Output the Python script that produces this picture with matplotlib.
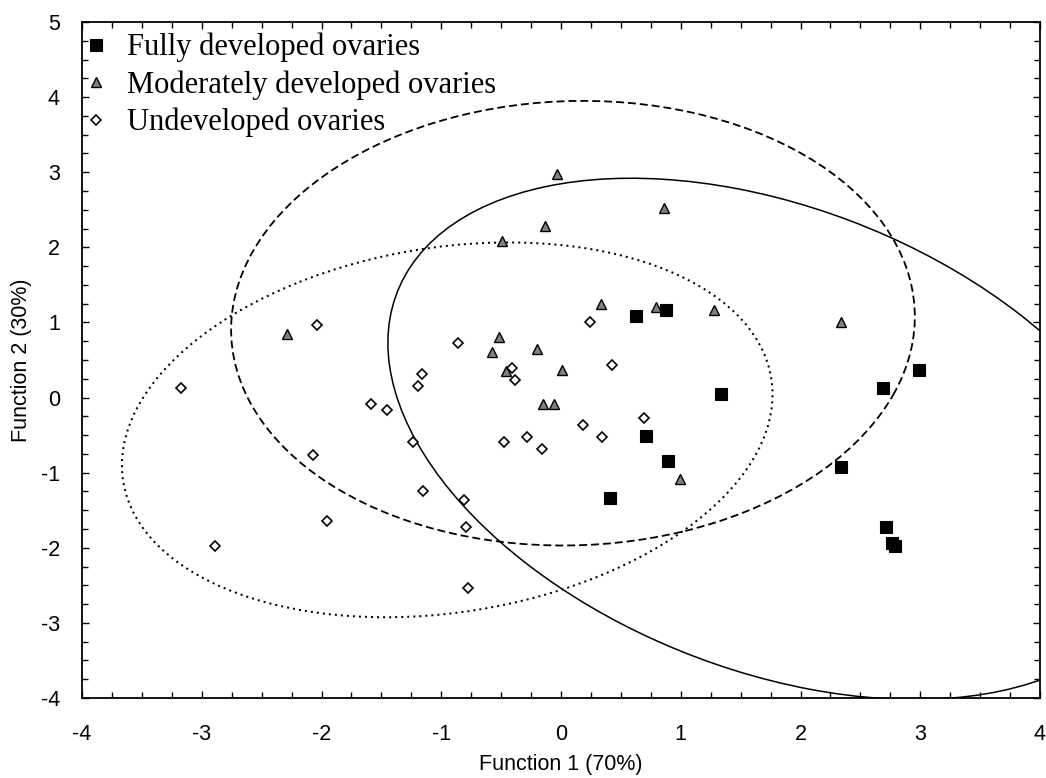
import numpy as np
import matplotlib
matplotlib.use("Agg")
import matplotlib.pyplot as plt
from matplotlib.patches import Ellipse

plt.rcParams["axes.unicode_minus"] = False

# ---- data ----
full_x = [0.63, 0.88, 1.34, 0.71, 0.89, 0.41, 2.99, 2.69, 2.34, 2.71, 2.76, 2.79]
full_y = [1.08, 1.17, 0.05, -0.51, -0.85, -1.34, 0.37, 0.13, -0.93, -1.73, -1.93, -1.97]

mod_x = [-0.03, 0.86, -0.13, -0.49, 0.33, 0.79, 1.28, -0.52, -0.58, -0.20, -0.46, 0.01,
         -0.15, -0.06, 0.99, -2.29, 2.34]
mod_y = [2.97, 2.53, 2.29, 2.09, 1.25, 1.20, 1.17, 0.80, 0.60, 0.64, 0.35, 0.37,
         -0.08, -0.08, -1.09, 0.85, 1.01]

und_x = [-2.04, -3.17, -1.16, -1.19, -1.59, -1.45, -1.24, -2.07, -1.15, -1.95, -2.89,
         -0.86, 0.24, -0.41, -0.38, 0.43, 0.69, 0.18, 0.34, -0.28, -0.48, -0.16,
         -0.81, -0.79, -0.78]
und_y = [0.97, 0.13, 0.31, 0.16, -0.08, -0.16, -0.59, -0.77, -1.25, -1.65, -1.97,
         0.72, 1.01, 0.39, 0.24, 0.43, -0.27, -0.37, -0.53, -0.53, -0.59, -0.69,
         -1.36, -1.73, -2.53]

labels = ["Fully developed ovaries", "Moderately developed ovaries", "Undeveloped ovaries"]

# confidence ellipses: centre and covariance-like matrix [Sxx, Syy, Sxy]
ell_full_center = (1.77, -0.55)
ell_full_cov = [10.34, 12.04, -4.11]
ell_mod_center = (0.10, 0.99)
ell_mod_cov = [8.15, 8.76, 0.25]
ell_und_center = (-0.95, -0.43)
ell_und_cov = [7.38, 6.225, 1.28]

# ---- figure ----
W, H = 1046, 778
fig = plt.figure(figsize=(W / 100, H / 100), dpi=100)
ax = fig.add_axes([82 / W, 1 - 698 / H, (1040 - 82) / W, (698 - 22) / H])


def add_ellipse(center, cov, **kw):
    S = np.array([[cov[0], cov[2]], [cov[2], cov[1]]])
    vals, vecs = np.linalg.eigh(S)
    ang = np.degrees(np.arctan2(vecs[1, 1], vecs[0, 1]))
    e = Ellipse(center, 2 * np.sqrt(vals[1]), 2 * np.sqrt(vals[0]), angle=ang,
                fill=False, color="black", **kw)
    ax.add_patch(e)


add_ellipse(ell_full_center, ell_full_cov, lw=1.1, linestyle="-")
add_ellipse(ell_mod_center, ell_mod_cov, lw=1.3, linestyle=(0, (4.4, 2.2)))
add_ellipse(ell_und_center, ell_und_cov, lw=1.45, linestyle=(0, (1, 2)))

ax.plot(full_x, full_y, linestyle="none", marker="s", ms=8, mfc="black", mec="black",
        mew=0.8, label=labels[0], zorder=3)
ax.plot(mod_x, mod_y, linestyle="none", marker="^", ms=7.5, mfc="#808080", mec="black",
        mew=1.0, label=labels[1], zorder=3)
ax.plot(und_x, und_y, linestyle="none", marker="D", ms=5, mfc="white", mec="black",
        mew=1.2, label=labels[2], zorder=3)

ax.set_xlim(-4, 4)
ax.set_ylim(-4, 5)
ax.set_xticks(np.arange(-4, 5, 1))
ax.set_yticks(np.arange(-4, 6, 1))
ax.set_xticks(np.arange(-4, 4.01, 0.25), minor=True)
ax.set_yticks(np.arange(-4, 5.01, 0.25), minor=True)
ax.tick_params(which="both", direction="in", top=True, right=True, width=1.0)
ax.tick_params(which="major", length=5)
ax.tick_params(which="minor", length=4)
ax.tick_params(axis="x", which="major", pad=19, labelsize=15.5)
ax.tick_params(axis="y", which="major", pad=16, labelsize=15.5)
for lab in ax.get_xticklabels() + ax.get_yticklabels():
    lab.set_fontfamily("Liberation Sans")
for s in ax.spines.values():
    s.set_linewidth(1.3)

ax.set_xlabel("Function 1 (70%)", fontsize=15.5, family="Liberation Sans", labelpad=6)
ax.set_ylabel("Function 2 (30%)", fontsize=15.5, family="Liberation Sans", labelpad=6)

leg = ax.legend(loc="upper left", bbox_to_anchor=(90 / W, 1 - 33 / H),
                bbox_transform=fig.transFigure, frameon=False,
                prop={"family": "Liberation Serif", "size": 22},
                handlelength=0.4, handletextpad=0.82, borderpad=0, borderaxespad=0,
                labelspacing=0.26, numpoints=1)

fig.savefig("out.png", dpi=100)
